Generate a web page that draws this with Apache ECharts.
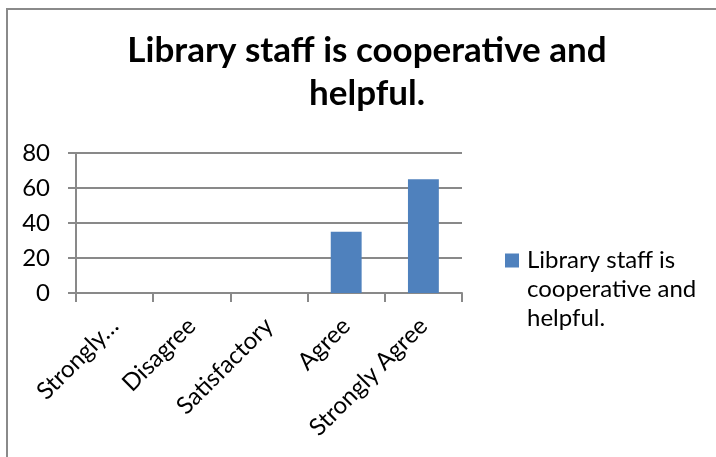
<!DOCTYPE html>
<html>
<head>
<meta charset="utf-8">
<script src="https://cdn.jsdelivr.net/npm/echarts@6/dist/echarts.min.js"></script>
<style>
html,body{margin:0;padding:0;background:#fff;}
#chart{width:716px;height:457px;}
</style>
</head>
<body>
<div id="chart"></div>
<script>
var titleText = 'Library staff is cooperative and\nhelpful.';
var seriesName = 'Library staff is cooperative and helpful.';
var legendLabel = '\n\nLibrary staff is\ncooperative and\nhelpful.';
var categories = ['Strongly Disagree', 'Disagree', 'Satisfactory', 'Agree', 'Strongly Agree'];
var tickLabels = ['Strongly…', 'Disagree', 'Satisfactory', 'Agree', 'Strongly Agree'];
var values = [0, 0, 0, 35, 65];
var yTicks = [0, 20, 40, 60, 80];

var FONT = 'Lato';
var AXIS = '#898989';

var chart = echarts.init(document.getElementById('chart'), null, {renderer: 'canvas'});
chart.setOption({
  animation: false,
  backgroundColor: '#ffffff',
  textStyle: {fontFamily: FONT},
  graphic: [{
    type: 'rect',
    shape: {x: 7, y: 9, width: 900, height: 700},
    style: {fill: 'none', stroke: '#8a8a8a', lineWidth: 2},
    silent: true
  }],
  title: {
    text: titleText,
    left: 367,
    top: 29,
    padding: 0,
    textAlign: 'center',
    textStyle: {fontFamily: FONT, fontWeight: 'bold', fontSize: 35, lineHeight: 43, color: '#000'}
  },
  legend: {
    data: [seriesName],
    left: 505,
    top: 188,
    padding: 0,
    itemWidth: 14,
    itemHeight: 14,
    icon: 'rect',
    formatter: function () { return legendLabel; },
    textStyle: {fontFamily: FONT, fontSize: 24, lineHeight: 29, color: '#000', padding: [0, 0, 0, 3]}
  },
  grid: {left: 76, right: 254, top: 153, bottom: 164},
  xAxis: {
    type: 'category',
    data: categories,
    axisLine: {show: true, lineStyle: {color: AXIS, width: 2}},
    axisTick: {show: true, length: 9, alignWithLabel: false, lineStyle: {color: AXIS, width: 2}},
    axisLabel: {
      interval: 0,
      rotate: 45,
      margin: 29,
      align: 'right',
      verticalAlign: 'middle',
      fontFamily: FONT,
      fontSize: 24,
      color: '#000',
      formatter: function (v, i) { return tickLabels[i]; }
    }
  },
  yAxis: {
    type: 'value',
    min: yTicks[0],
    max: yTicks[yTicks.length - 1],
    interval: yTicks[1] - yTicks[0],
    axisLine: {show: true, lineStyle: {color: AXIS, width: 2}},
    axisTick: {show: true, length: 8, lineStyle: {color: AXIS, width: 2}},
    splitLine: {show: true, lineStyle: {color: AXIS, width: 2}},
    axisLabel: {margin: 26, fontFamily: FONT, fontSize: 24, color: '#000'}
  },
  series: [{
    name: seriesName,
    type: 'bar',
    data: values,
    barWidth: '40%',
    itemStyle: {color: '#4f81bd'}
  }]
});
</script>
</body>
</html>
